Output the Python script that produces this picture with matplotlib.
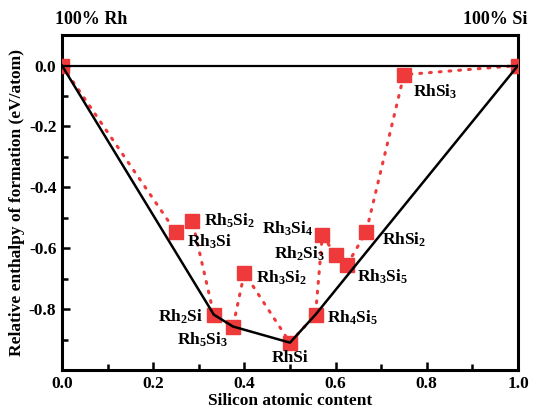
import matplotlib
matplotlib.use("Agg")
import matplotlib.pyplot as plt

plt.rcParams['font.family'] = 'Liberation Serif'
plt.rcParams['font.weight'] = 'bold'
plt.rcParams['mathtext.fontset'] = 'custom'
plt.rcParams['mathtext.bf'] = 'Liberation Serif:bold'
plt.rcParams['mathtext.rm'] = 'Liberation Serif:bold'
plt.rcParams['mathtext.default'] = 'bf'
plt.rcParams['axes.unicode_minus'] = False

# compounds, in the order the dotted line joins them
names = ['Rh', 'Rh$_3$Si', 'Rh$_5$Si$_2$', 'Rh$_2$Si', 'Rh$_5$Si$_3$', 'Rh$_3$Si$_2$',
         'RhSi', 'Rh$_4$Si$_5$', 'Rh$_3$Si$_4$', 'Rh$_2$Si$_3$', 'Rh$_3$Si$_5$',
         'RhSi$_2$', 'RhSi$_3$', 'Si']
si_content = [0.0, 0.25, 0.286, 0.333, 0.375, 0.4, 0.5, 0.556, 0.571, 0.6, 0.625,
              0.667, 0.75, 1.0]
enthalpy = [0.0, -0.547, -0.511, -0.818, -0.857, -0.681, -0.91, -0.818, -0.557,
            -0.622, -0.655, -0.547, -0.03, 0.0]

# convex hull vertices (indices into the lists above)
hull_idx = [0, 3, 4, 6, 7, 13]

# label offsets in pixels (dx, dy, ha)
label_pos = {
    'Rh$_3$Si': (11, -10, 'left'),
    'Rh$_5$Si$_2$': (12, 0, 'left'),
    'Rh$_2$Si': (-11, -2, 'right'),
    'Rh$_5$Si$_3$': (-5, -13, 'right'),
    'Rh$_3$Si$_2$': (12, -5, 'left'),
    'RhSi': (0, -15, 'center'),
    'Rh$_4$Si$_5$': (11, -3, 'left'),
    'Rh$_3$Si$_4$': (-9, 6, 'right'),
    'Rh$_2$Si$_3$': (-10, 1, 'right'),
    'Rh$_3$Si$_5$': (10, -12, 'left'),
    'RhSi$_2$': (16, -8, 'left'),
    'RhSi$_3$': (9, -17, 'left'),
}

red = '#EE3A3A'

fig = plt.figure(figsize=(5.34, 4.08), dpi=100)
ax = fig.add_axes([0.116, 0.093, 0.854, 0.821])

ax.axhline(0, color='black', lw=1.6, zorder=4)
ax.plot(si_content, enthalpy, color=red, lw=2.2, linestyle=(0, (0.6, 2.6)),
        dash_capstyle='round', zorder=2)
ax.plot(si_content, enthalpy, 's', color=red, ms=9.5, zorder=3)
ax.plot([si_content[i] for i in hull_idx], [enthalpy[i] for i in hull_idx],
        color='black', lw=1.8, zorder=5)

for n, x, y in zip(names, si_content, enthalpy):
    if n in label_pos:
        dx, dy, ha = label_pos[n]
        ax.annotate(n, (x, y), xytext=(dx, dy), textcoords='offset pixels',
                    ha=ha, va='center', fontsize=12.5, fontweight='bold', zorder=6)

ax.set_xlim(0, 1.0)
ax.set_ylim(-1.0, 0.1)
ax.set_xticks([0.0, 0.2, 0.4, 0.6, 0.8, 1.0])
ax.set_xticks([0.1, 0.3, 0.5, 0.7, 0.9], minor=True)
ax.set_yticks([0.0, -0.2, -0.4, -0.6, -0.8])
ax.set_yticks([-0.1, -0.3, -0.5, -0.7, -0.9], minor=True)
ax.set_xticklabels(['0.0', '0.2', '0.4', '0.6', '0.8', '1.0'])
ax.set_yticklabels(['0.0', '-0.2', '-0.4', '-0.6', '-0.8'])
ax.tick_params(which='both', direction='in', width=1.8, labelsize=12.5, pad=4)
ax.tick_params(which='major', length=6)
ax.tick_params(which='minor', length=4)
for s in ax.spines.values():
    s.set_linewidth(2.2)

ax.set_xlabel('Silicon atomic content', fontsize=12.5, fontweight='bold', labelpad=1)
ax.set_ylabel('Relative enthalpy of formation (eV/atom)', fontsize=12.5,
              fontweight='bold', labelpad=3)

ax.text(-0.015, 1.02, '100% Rh', transform=ax.transAxes, ha='left', va='bottom',
        fontsize=13, fontweight='bold')
ax.text(1.02, 1.02, '100% Si', transform=ax.transAxes, ha='right', va='bottom',
        fontsize=13, fontweight='bold')

fig.savefig('out.png', dpi=100)
